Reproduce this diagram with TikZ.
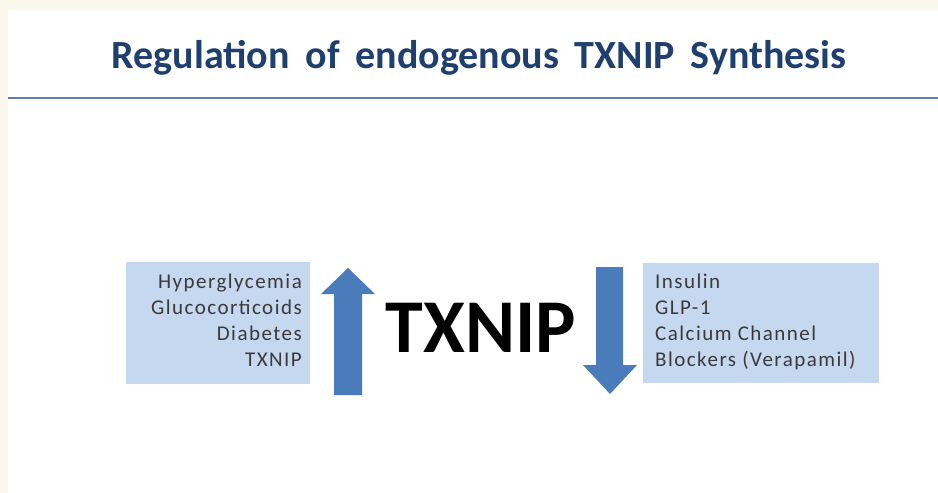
\documentclass[tikz,border=0pt]{standalone}
\usepackage{fontspec}
\setmainfont{Carlito}
\newfontfamily\lblfont[LetterSpace=7]{Carlito}
\definecolor{titleblue}{HTML}{1F3F6E}
\definecolor{rulecol}{HTML}{5F7FA8}
\definecolor{boxfill}{HTML}{C6D8F0}
\definecolor{arrowblue}{HTML}{4A7CBC}
\definecolor{txtgray}{HTML}{3A3A3A}
\definecolor{cream}{HTML}{F9F7EC}
\begin{document}
\begin{tikzpicture}[x=1pt,y=-1pt,
  lbl/.style={font=\lblfont\fontsize{21}{26}\selectfont, text=txtgray, inner sep=0pt},
  panel/.style={fill=boxfill, draw=none},
  bigarrow/.style={fill=arrowblue, draw=none}]
\useasboundingbox (0,0) rectangle (938,493);
\fill[white] (0,0) rectangle (938,493);
\fill[cream] (0,0) rectangle (938,10);
\fill[cream] (0,0) rectangle (8,493);
% title
\node[font=\bfseries\fontsize{40}{46}\selectfont, text=titleblue, anchor=base] (title) at (479,68) {Regulation\, of\, endogenous\, TXNIP\, Synthesis};
\coordinate (ruleL) at (8,98);
\coordinate (ruleR) at (938,98);
\draw[rulecol, line width=2pt] (ruleL) -- (ruleR);
% left panel
\fill[panel] (126,262) rectangle (310,384);
\node[lbl, anchor=base east] (h) at (302,288) {Hyperglycemia};
\node[lbl, anchor=base east] (g) at (302,314) {Glucocorticoids};
\node[lbl, anchor=base east] (d) at (302,340) {Diabetes};
\node[lbl, anchor=base east] (t) at (302,366) {TXNIP};
% up arrow
\fill[bigarrow] (334,395) -- (334,294) -- (321,294) -- (348,268) -- (375,294) -- (362,294) -- (362,395) -- cycle;
% central text
\node[font=\bfseries\fontsize{76}{90}\selectfont, text=black, anchor=base, inner sep=0pt] (txnip) at (481,352) {TXNIP};
% down arrow
\fill[bigarrow] (596,267) -- (623,267) -- (623,365) -- (637,365) -- (610,394) -- (583,365) -- (596,365) -- cycle;
% right panel
\fill[panel] (643,263) rectangle (879,383);
\node[lbl, anchor=base west] (i) at (655,288) {Insulin};
\node[lbl, anchor=base west] (gl) at (655,314) {GLP-1};
\node[lbl, anchor=base west] (c) at (655,340) {Calcium Channel};
\node[lbl, anchor=base west] (b) at (655,366) {Blockers (Verapamil)};
\end{tikzpicture}
\end{document}
